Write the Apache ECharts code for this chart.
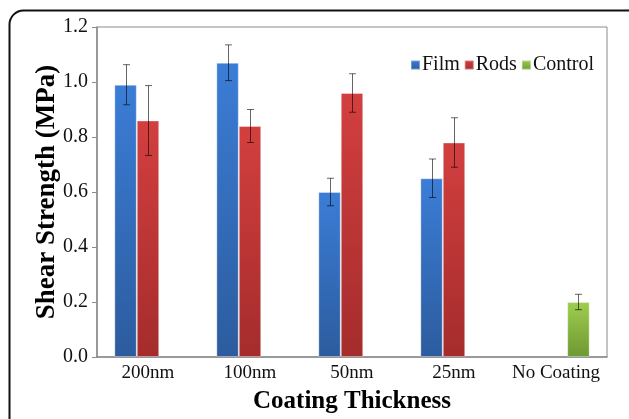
<!DOCTYPE html>
<html><head><meta charset="utf-8">
<script src="https://cdn.jsdelivr.net/npm/echarts@6/dist/echarts.min.js"></script>
<style>html,body{margin:0;padding:0;background:#fff}#c{width:629px;height:419px}</style>
</head><body><div id="c"></div>
<script>
const categories = ['200nm', '100nm', '50nm', '25nm', 'No Coating'];
const filmValues = [0.99, 1.07, 0.60, 0.65, null];
const filmErrors = [0.073, 0.065, 0.05, 0.07, null];
const rodsValues = [0.86, 0.84, 0.96, 0.78, null];
const rodsErrors = [0.127, 0.06, 0.07, 0.09, null];
const controlValues = [null, null, null, null, 0.20];
const controlErrors = [null, null, null, null, 0.028];
const yTicks = ['0.0', '0.2', '0.4', '0.6', '0.8', '1.0', '1.2'];

const FONT = '"Liberation Serif", "Times New Roman", serif';
const CAT_GAP = 0.34;

function grad(top, bottom) {
  return new echarts.graphic.LinearGradient(0, 0, 0, 1, [
    { offset: 0, color: top }, { offset: 1, color: bottom }
  ]);
}

function errData(vals, errs) {
  const out = [];
  vals.forEach((v, i) => { if (v != null && errs[i] != null) out.push([i, v - errs[i], v + errs[i]]); });
  return out;
}

function errSeries(name, vals, errs, slot) {
  return {
    type: 'custom',
    name: name + ' err',
    z: 10,
    silent: true,
    data: errData(vals, errs),
    renderItem: function (params, api) {
      const idx = api.value(0);
      const lo = api.coord([idx, api.value(1)]);
      const hi = api.coord([idx, api.value(2)]);
      const catW = api.size([1, 0])[0];
      const bw = catW * (1 - CAT_GAP) / 3;
      const x = Math.round(lo[0] + (slot - 1) * bw) + 0.5;
      const cap = 3.5;
      const style = { stroke: 'rgba(0,0,0,0.6)', lineWidth: 1 };
      return {
        type: 'group',
        children: [
          { type: 'line', shape: { x1: x, y1: lo[1], x2: x, y2: hi[1] }, style: style },
          { type: 'line', shape: { x1: x - cap, y1: lo[1], x2: x + cap, y2: lo[1] }, style: style },
          { type: 'line', shape: { x1: x - cap, y1: hi[1], x2: x + cap, y2: hi[1] }, style: style }
        ]
      };
    }
  };
}

const chart = echarts.init(document.getElementById('c'), null, { renderer: 'canvas' });
chart.setOption({
  animation: false,
  backgroundColor: '#fff',
  textStyle: { fontFamily: FONT },
  graphic: [{
    type: 'rect',
    shape: { x: 9.5, y: 10.5, width: 640, height: 460, r: 14 },
    style: { fill: 'none', stroke: '#111', lineWidth: 2 },
    z: -1
  }],
  grid: { left: 97, right: 22, top: 27, bottom: 57, show: true, borderColor: '#8a8a8a', borderWidth: 1, backgroundColor: 'transparent' },
  legend: {
    data: ['Film', 'Rods', 'Control'],
    right: 30, top: 50,
    itemWidth: 9, itemHeight: 9, itemGap: 4,
    icon: 'rect',
    textStyle: { fontFamily: FONT, fontSize: 20, color: '#111', padding: [0, 0, 0, -3] }
  },
  xAxis: {
    type: 'category',
    data: categories,
    axisTick: { show: false },
    axisLine: { lineStyle: { color: '#8a8a8a', width: 1.5 } },
    axisLabel: { fontFamily: FONT, fontSize: 19, color: '#111', margin: 7, interval: 0 },
    name: 'Coating Thickness',
    nameLocation: 'middle',
    nameGap: 32,
    nameTextStyle: { fontFamily: FONT, fontSize: 25, fontWeight: 'bold', color: '#000' }
  },
  yAxis: {
    type: 'value',
    min: 0, max: 1.2, interval: 0.2,
    splitLine: { show: false },
    axisLine: { show: true, lineStyle: { color: '#8a8a8a', width: 1.5 } },
    axisTick: { show: true, length: 5, lineStyle: { color: '#8a8a8a' } },
    axisLabel: {
      fontFamily: FONT, fontSize: 20, color: '#111', margin: 9,
      formatter: function (v) { return yTicks[Math.round(v / 0.2)]; }
    },
    name: 'Shear Strength (MPa)',
    nameLocation: 'middle',
    nameGap: 36,
    nameMoveOverlap: false,
    nameTextStyle: { fontFamily: FONT, fontSize: 27, fontWeight: 'bold', color: '#000' }
  },
  series: [
    { name: 'Film', type: 'bar', data: filmValues, barGap: '0%', barCategoryGap: (CAT_GAP * 100) + '%',
      itemStyle: { color: grad('#3b7dd6', '#2c5c9e'), borderColor: 'rgba(255,255,255,0.35)', borderWidth: 1 } },
    { name: 'Rods', type: 'bar', data: rodsValues, barGap: '0%', barCategoryGap: (CAT_GAP * 100) + '%',
      itemStyle: { color: grad('#d33f3f', '#a52c2c'), borderColor: 'rgba(255,255,255,0.35)', borderWidth: 1 } },
    { name: 'Control', type: 'bar', data: controlValues, barGap: '0%', barCategoryGap: (CAT_GAP * 100) + '%',
      itemStyle: { color: grad('#9fcd4f', '#6e9832'), borderColor: 'rgba(255,255,255,0.35)', borderWidth: 1 } },
    errSeries('Film', filmValues, filmErrors, 0),
    errSeries('Rods', rodsValues, rodsErrors, 1),
    errSeries('Control', controlValues, controlErrors, 2)
  ]
});
</script>
</body></html>
